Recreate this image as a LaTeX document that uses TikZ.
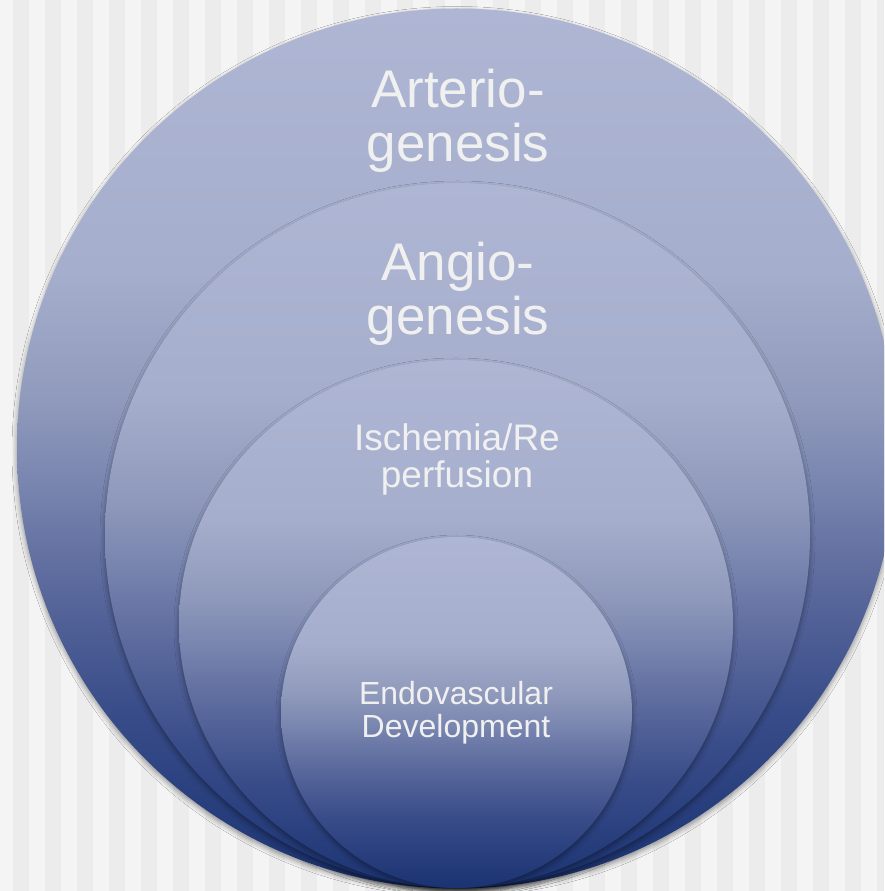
\documentclass[tikz,border=0pt]{standalone}
\usepackage{fontspec}
\setmainfont{Liberation Sans}
\usetikzlibrary{shapes.geometric,shadows.blur}
\definecolor{bgA}{HTML}{F4F4F4}
\definecolor{bgB}{HTML}{ECECEC}
\definecolor{g0}{HTML}{AEB6D4}
\definecolor{g1}{HTML}{A5AECC}
\definecolor{g2}{HTML}{8F99BB}
\definecolor{g3}{HTML}{7683AE}
\definecolor{g4}{HTML}{5C6A9D}
\definecolor{g5}{HTML}{384C89}
\definecolor{g6}{HTML}{1B3372}
\definecolor{txt}{HTML}{F0F0F0}
\pgfdeclareverticalshading{disc}{100bp}{color(0bp)=(g6); color(25bp)=(g6); color(35bp)=(g5); color(42.5bp)=(g4); color(47.5bp)=(g3); color(52.5bp)=(g2); color(60bp)=(g1); color(75bp)=(g0); color(100bp)=(g0)}
\begin{document}
\begin{tikzpicture}[x=1pt,y=1pt,
  discbox/.style={shading=disc, inner sep=0pt, draw=none,
    blur shadow={shadow xshift=0pt, shadow yshift=-3pt, shadow blur radius=5pt, shadow opacity=40}},
  bigtxt/.style={text=txt, align=center, inner sep=0pt, font=\fontsize{53}{54}\selectfont},
  midtxt/.style={text=txt, align=center, inner sep=0pt, font=\fontsize{37}{37}\selectfont},
  smalltxt/.style={text=txt, align=center, inner sep=0pt, font=\fontsize{32}{33}\selectfont}]
\useasboundingbox (0,0) rectangle (884,891);
\clip (0,0) rectangle (884,891);
\fill[bgA] (0,0) rectangle (884,891);
\foreach \i in {0,...,27} \fill[bgB] (13+32*\i,0) rectangle (29+32*\i,891);
\node[discbox, circle, minimum size=880pt] (c1) at (457,442.5) {};
\node[discbox, circle, minimum size=705pt] (c2) at (457.5,355.5) {};
\node[discbox, ellipse, minimum width=554pt, minimum height=528pt] (c3) at (456,267) {};
\node[discbox, circle, minimum size=351pt] (c4) at (456.5,178.5) {};
\node[bigtxt, anchor=base] (t1) at (458,729) {Arterio-\\genesis};
\node[bigtxt, anchor=base] (t2) at (458,556) {Angio-\\genesis};
\node[midtxt, anchor=base] (t3) at (457,403) {Ischemia/Re\\perfusion};
\node[smalltxt, anchor=base] (t4) at (456,153) {Endovascular\\Development};
\end{tikzpicture}
\end{document}
